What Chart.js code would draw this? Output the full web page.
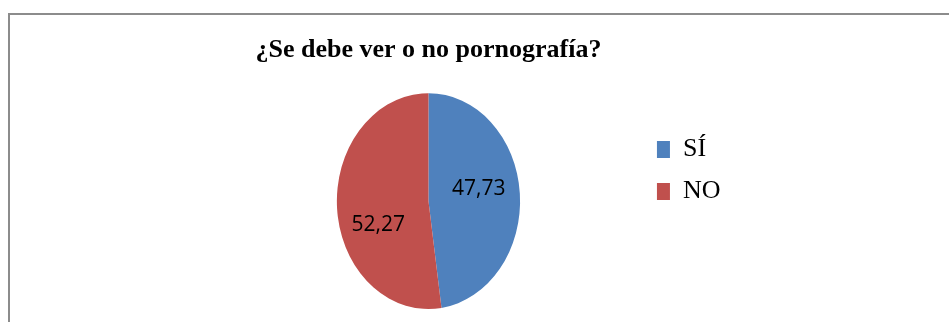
<!DOCTYPE html>
<html lang="es">
<head>
<meta charset="utf-8">
<title>¿Se debe ver o no pornografía?</title>
<script src="https://cdn.jsdelivr.net/npm/chart.js@4.4.1/dist/chart.umd.min.js"></script>
<style>
  html, body { margin: 0; padding: 0; background: #fff; }
  #marco {
    position: absolute; left: 8px; top: 13px; width: 960px; height: 330px;
    border-top: 2px solid #8c8c8c; border-left: 2px solid #8c8c8c;
  }
  #grafico { position: absolute; left: 0; top: 0; }
</style>
</head>
<body>
<div id="marco"></div>
<canvas id="grafico" width="949" height="322"></canvas>
<script>
const categorias = ['SÍ', 'NO'];
const porcentajes = [47.73, 52.27];
const colores = ['#4F81BD', '#C0504D'];
// ajuste fino (px) de la posición de cada etiqueta de valor
const ajusteEtiquetas = [[0, -8], [0, 20]];

const escalaX = 0.849; // el pastel va achatado en horizontal
const fuenteSerif = '"Liberation Serif", "Times New Roman", serif';

// Achata el pastel alrededor de su centro y luego escribe los valores encima
const pastelEliptico = {
    id: 'pastelEliptico',
    beforeDatasetsDraw(chart) {
        const arco = chart.getDatasetMeta(0).data[0];
        const ctx = chart.ctx;
        ctx.save();
        ctx.translate(arco.x, 0);
        ctx.scale(escalaX, 1);
        ctx.translate(-arco.x, 0);
    },
    afterDatasetsDraw(chart) {
        const ctx = chart.ctx;
        ctx.restore();
        const meta = chart.getDatasetMeta(0);
        ctx.save();
        ctx.font = '21px "Open Sans"';
        ctx.fillStyle = '#000';
        ctx.textAlign = 'center';
        ctx.textBaseline = 'middle';
        meta.data.forEach((arco, i) => {
            const medio = (arco.startAngle + arco.endAngle) / 2;
            const r = arco.outerRadius * 0.55;
            const x = arco.x + Math.cos(medio) * r * escalaX + ajusteEtiquetas[i][0];
            const y = arco.y + Math.sin(medio) * r + ajusteEtiquetas[i][1];
            ctx.fillText(porcentajes[i].toFixed(2).replace('.', ','), x, y);
        });
        ctx.restore();
    }
};

new Chart(document.getElementById('grafico'), {
    type: 'pie',
    data: {
        labels: categorias,
        datasets: [{
            data: porcentajes,
            backgroundColor: colores,
            borderWidth: 0
        }]
    },
    options: {
        responsive: false,
        animation: false,
        events: [],
        layout: {
            padding: { left: 216, right: 218.5, top: 32, bottom: 13 }
        },
        plugins: {
            title: {
                display: true,
                text: '¿Se debe ver o no pornografía?',
                fullSize: false,
                color: '#000',
                font: { family: fuenteSerif, size: 26, weight: 'bold' },
                padding: { top: 3, bottom: 27 }
            },
            legend: {
                position: 'right',
                align: 'center',
                labels: {
                    boxWidth: 13,
                    boxHeight: 17,
                    padding: 16,
                    color: '#000',
                    font: { family: fuenteSerif, size: 26 }
                }
            },
            tooltip: { enabled: false }
        }
    },
    plugins: [pastelEliptico]
});
</script>
</body>
</html>
